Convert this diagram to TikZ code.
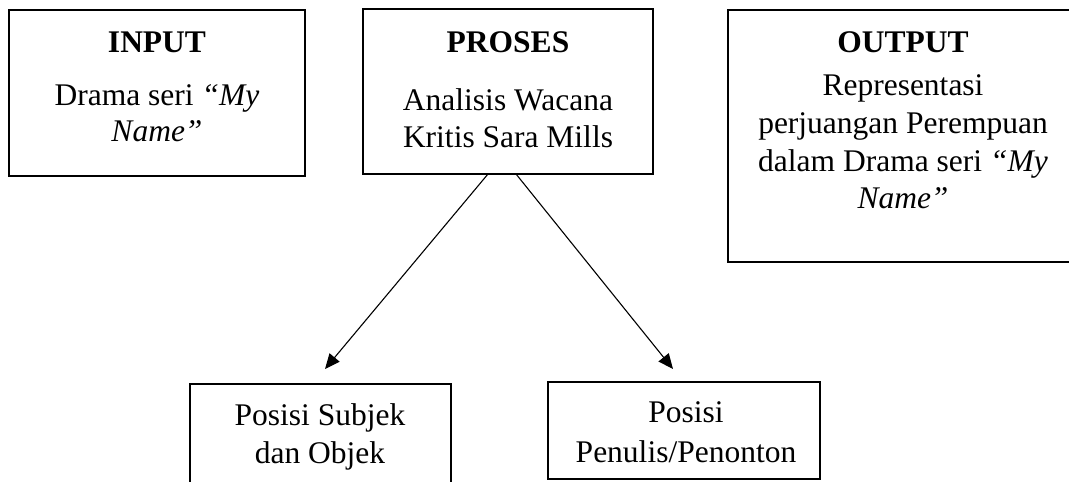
\documentclass[tikz,border=0pt]{standalone}
\usepackage{fontspec}
\setmainfont{Liberation Serif}
\usetikzlibrary{arrows.meta}
\begin{document}
\begin{tikzpicture}[x=1pt,y=-1pt,
  box/.style={draw=black,line width=2pt,rectangle,inner sep=0pt},
  txt/.style={anchor=base,inner sep=0pt,font=\fontsize{31.5}{36}\selectfont},
  ttl/.style={txt,font=\fontsize{31.5}{36}\selectfont\bfseries},
  arr/.style={draw=black,line width=1.1pt,-{Triangle[length=15pt,width=13pt]}}]
\useasboundingbox (0,0) rectangle (1069,482);
\fill[white] (0,0) rectangle (1069,482);
% boxes
\node[box,minimum width=296,minimum height=166] (input) at (157,93) {};
\node[box,minimum width=290,minimum height=165] (proses) at (508,91.5) {};
\node[box,minimum width=350,minimum height=252] (output) at (903,136) {};
\node[box,minimum width=261,minimum height=130] (subjek) at (320.5,449) {};
\node[box,minimum width=272,minimum height=97] (penulis) at (684,430.5) {};
% texts
\node[ttl] (t1) at (157,52) {INPUT};
\node[txt] (t2) at (157,105) {Drama seri \textit{“My}};
\node[txt] (t3) at (157,141) {\textit{Name”}};
\node[ttl] (t4) at (508,52) {PROSES};
\node[txt] (t5) at (508,110) {Analisis Wacana};
\node[txt] (t6) at (508,147) {Kritis Sara Mills};
\node[ttl] (t7) at (903,52) {OUTPUT};
\node[txt] (t8) at (903,95) {Representasi};
\node[txt] (t9) at (903,133) {perjuangan Perempuan};
\node[txt] (t10) at (903,171) {dalam Drama seri \textit{“My}};
\node[txt] (t11) at (903,208) {\textit{Name”}};
\node[txt] (t12) at (320,425) {Posisi Subjek};
\node[txt] (t13) at (320,463) {dan Objek};
\node[txt] (t14) at (686,422) {Posisi};
\node[txt] (t15) at (686,462) {Penulis/Penonton};
% connectors
\coordinate (s1) at (488,174);
\coordinate (s2) at (516,174);
\coordinate (e1) at (325,369);
\coordinate (e2) at (673,369);
\draw[arr] (s1) -- (e1);
\draw[arr] (s2) -- (e2);
\end{tikzpicture}
\end{document}
